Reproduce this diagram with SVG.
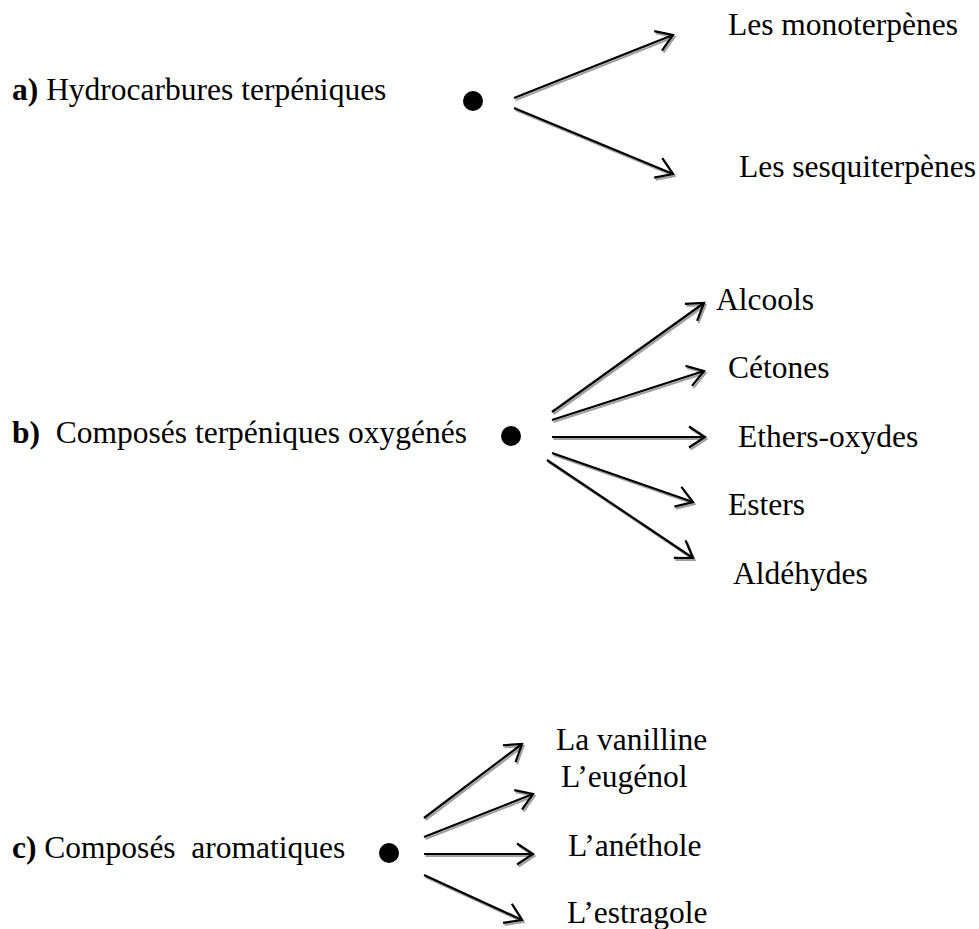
<svg xmlns="http://www.w3.org/2000/svg" width="979" height="929" viewBox="0 0 979 929">
<style>
text{font-family:"Liberation Serif","Times New Roman",serif;font-size:31.5px;fill:#000}
.b{font-weight:bold}
.ln{fill:none;stroke:#000;stroke-width:2.2;marker-end:url(#ak)}
.sh{fill:none;stroke:#a0a0a0;stroke-width:2.2;marker-end:url(#ag)}
.dot{fill:#000}
</style>
<defs>
<marker id="ak" markerUnits="userSpaceOnUse" viewBox="-20 -14 24 28" refX="0" refY="0" markerWidth="24" markerHeight="28" orient="auto">
<path d="M-16,-10.5 L0,0 L-16,10.5" fill="none" stroke="#000" stroke-width="2.2" stroke-linejoin="miter"/>
</marker>
<marker id="ag" markerUnits="userSpaceOnUse" viewBox="-20 -14 24 28" refX="0" refY="0" markerWidth="24" markerHeight="28" orient="auto">
<path d="M-16,-10.5 L0,0 L-16,10.5" fill="none" stroke="#a0a0a0" stroke-width="2.2" stroke-linejoin="miter"/>
</marker>
</defs>
<rect width="979" height="929" fill="#fff"/>

<g id="node-a">
<text x="12" y="100"><tspan class="b">a)</tspan> Hydrocarbures terpéniques</text>
<circle class="dot" cx="473" cy="101" r="10"/>
</g>
<g id="node-a1"><text x="728" y="35">Les monoterpènes</text></g>
<g id="node-a2"><text x="739" y="177">Les sesquiterpènes</text></g>

<g id="node-b">
<text x="12" y="443" xml:space="preserve"><tspan class="b">b)</tspan>  Composés terpéniques oxygénés</text>
<circle class="dot" cx="511" cy="436" r="10"/>
</g>
<g id="node-b1"><text x="716" y="310">Alcools</text></g>
<g id="node-b2"><text x="728" y="378">Cétones</text></g>
<g id="node-b3"><text x="738" y="447">Ethers-oxydes</text></g>
<g id="node-b4"><text x="728" y="515">Esters</text></g>
<g id="node-b5"><text x="733" y="584">Aldéhydes</text></g>

<g id="node-c">
<text x="12" y="858" xml:space="preserve"><tspan class="b">c)</tspan> Composés  aromatiques</text>
<circle class="dot" cx="389" cy="853" r="10"/>
</g>
<g id="node-c1"><text x="556" y="750">La vanilline</text></g>
<g id="node-c2"><text x="561" y="787">L’eugénol</text></g>
<g id="node-c3"><text x="568" y="856">L’anéthole</text></g>
<g id="node-c4"><text x="567" y="923">L’estragole</text></g>

<g id="connectors">
<g transform="translate(1.5,2)">
<path class="sh" d="M514,98 L673,35"/>
<path class="sh" d="M514,108 L673,174"/>
<path class="sh" d="M552,412 L704,303"/>
<path class="sh" d="M552,420 L704,371"/>
<path class="sh" d="M552,437 L705,437"/>
<path class="sh" d="M552,453 L693,502"/>
<path class="sh" d="M547,460 L693,558"/>
<path class="sh" d="M424,818 L522,744"/>
<path class="sh" d="M424,837 L533,794"/>
<path class="sh" d="M424,854 L533,854"/>
<path class="sh" d="M424,875 L522,920"/>
</g>
<path class="ln" d="M514,98 L673,35"/>
<path class="ln" d="M514,108 L673,174"/>
<path class="ln" d="M552,412 L704,303"/>
<path class="ln" d="M552,420 L704,371"/>
<path class="ln" d="M552,437 L705,437"/>
<path class="ln" d="M552,453 L693,502"/>
<path class="ln" d="M547,460 L693,558"/>
<path class="ln" d="M424,818 L522,744"/>
<path class="ln" d="M424,837 L533,794"/>
<path class="ln" d="M424,854 L533,854"/>
<path class="ln" d="M424,875 L522,920"/>
</g>
</svg>
